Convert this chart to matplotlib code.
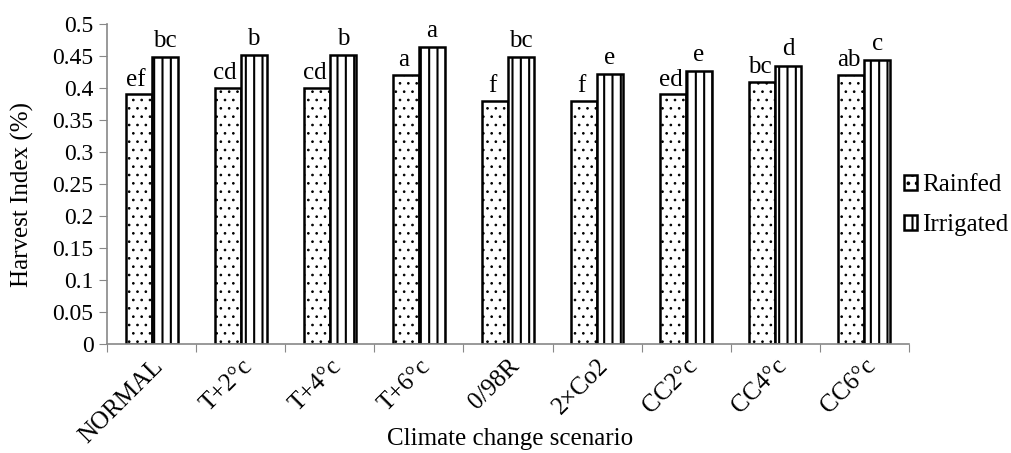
import numpy as np
import matplotlib
matplotlib.use('Agg')
from matplotlib import pyplot as plt

scenarios = ['NORMAL', 'T+2°c', 'T+4°c', 'T+6°c', '0/98R', '2×Co2', 'CC2°c', 'CC4°c', 'CC6°c']
rainfed = [0.39, 0.40, 0.40, 0.42, 0.38, 0.38, 0.39, 0.41, 0.42]
irrigated = [0.448, 0.451, 0.451, 0.464, 0.448, 0.422, 0.427, 0.435, 0.443]
rainfed_letters = ['ef', 'cd', 'cd', 'a', 'f', 'f', 'ed', 'bc', 'ab']
irrigated_letters = ['bc', 'b', 'b', 'a', 'bc', 'e', 'e', 'd', 'c']

plt.rcParams['font.family'] = ['Liberation Serif', 'DejaVu Serif']

fig = plt.figure(figsize=(10.12, 4.53), dpi=100)
ax = fig.add_axes([0.106, 0.241, 0.792, 0.706])

x = np.arange(len(scenarios))
w = 0.29
# thin hatch lines for the dots, thicker for the stripes
plt.rcParams['hatch.linewidth'] = 0.7
b1 = ax.bar(x - w / 2, rainfed, w, color='white', edgecolor='black', hatch='..',
            linewidth=1.8, label='Rainfed')
plt.rcParams['hatch.linewidth'] = 1.5
b2 = ax.bar(x + w / 2, irrigated, w, color='white', edgecolor='black', hatch='||',
            linewidth=1.8, label='Irrigated')

for i in range(len(x)):
    ax.text(x[i] - w / 2 - 0.03, rainfed[i] + 0.006, rainfed_letters[i], ha='center',
            va='bottom', fontsize=18)
    ax.text(x[i] + w / 2, irrigated[i] + 0.008, irrigated_letters[i], ha='center',
            va='bottom', fontsize=18)

ax.set_xlim(-0.5, len(x) - 0.5)
ax.set_ylim(0, 0.5)
ax.set_yticks(np.arange(0, 0.501, 0.05))
ax.set_yticklabels(['0', '0.05', '0.1', '0.15', '0.2', '0.25', '0.3', '0.35', '0.4', '0.45', '0.5'])
ax.set_xticks(np.arange(-0.5, len(x), 1.0))
ax.set_xticklabels([])
ax.set_xticks(x, minor=True)
ax.set_xticklabels(scenarios, minor=True, rotation=45, ha='right', rotation_mode='anchor')
ax.tick_params(axis='x', which='minor', length=0, labelsize=18, pad=8)
ax.tick_params(axis='x', which='major', length=6, color='#888888')
ax.tick_params(axis='y', labelsize=17, length=6, color='#888888', pad=4)

for s in ['top', 'right']:
    ax.spines[s].set_visible(False)
for s in ['left', 'bottom']:
    ax.spines[s].set_color('#888888')
    ax.spines[s].set_linewidth(1.2)

ax.set_ylabel('Harvest Index (%)', fontsize=18)
ax.yaxis.set_label_coords(-0.092, 0.466)
ax.set_xlabel('Climate change scenario', fontsize=18)
ax.xaxis.set_label_coords(0.502, -0.262)

fig.legend(handles=[b1, b2], loc='center left', bbox_to_anchor=(0.893, 0.547),
           frameon=False, fontsize=18, handlelength=0.55, handleheight=0.55,
           handletextpad=0.2, labelspacing=0.7, borderaxespad=0, borderpad=0)

fig.savefig('out.png', dpi=100)
